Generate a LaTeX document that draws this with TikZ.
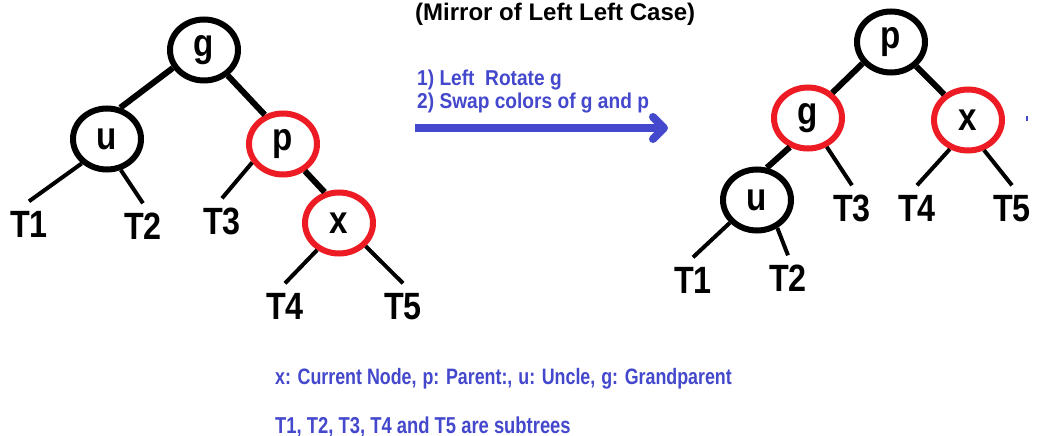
\documentclass[tikz,border=0pt]{standalone}
\usepackage{fontspec}
\setmainfont{Liberation Sans}
\newfontfamily\lblfont[FakeStretch=0.85]{Liberation Sans}
\newfontfamily\stepfont[FakeStretch=0.89]{Liberation Sans}
\newfontfamily\notefont[FakeStretch=0.8]{Liberation Sans}
\usetikzlibrary{shapes.geometric}
\definecolor{rbred}{RGB}{237,28,36}
\definecolor{txtblue}{RGB}{68,72,204}
\tikzset{
  rbnode/.style={ellipse, line width=6pt, minimum width=68pt, minimum height=61pt,
    inner sep=0pt, fill=white, font=\lblfont\bfseries\fontsize{39}{41}\selectfont},
  blknode/.style={rbnode, draw=black},
  rednode/.style={rbnode, draw=rbred},
  subtree/.style={font=\lblfont\bfseries\fontsize{38}{40}\selectfont,
    inner xsep=2pt, inner ysep=9pt, text height=27pt, text depth=0pt},
  bigedge/.style={line width=6pt},
  smalledge/.style={line width=4pt},
  titlestyle/.style={anchor=base west, inner sep=0pt, font=\bfseries\fontsize{24}{26}\selectfont},
  stepstyle/.style={anchor=base west, inner sep=0pt, text=txtblue, font=\stepfont\bfseries\fontsize{21.5}{23}\selectfont},
  notestyle/.style={anchor=base west, inner sep=0pt, text=txtblue, font=\notefont\bfseries\fontsize{23}{25}\selectfont},
  arrowline/.style={draw=txtblue, line width=8pt}
}
\begin{document}
\begin{tikzpicture}[x=1pt,y=-1pt]
\fill[white] (0,0) rectangle (1039,436);
\useasboundingbox (0,0) rectangle (1039,436);

% ---------- left tree ----------
\node[blknode] (Lg) at (204,50) {g};
\node[blknode] (Lu) at (107,139) {u};
\node[rednode] (Lp) at (283,144) {p};
\node[rednode] (Lx) at (339,223) {x};
\node[subtree] (LT1) at (29,224) {T1};
\node[subtree] (LT2) at (143,226) {T2};
\node[subtree] (LT3) at (222,221) {T3};
\node[subtree] (LT4) at (285,306) {T4};
\node[subtree] (LT5) at (403,306) {T5};

\draw[bigedge] (Lg.210) -- (Lu.67);
\draw[bigedge] (Lg.313) -- (Lp.122);
\draw[bigedge] (Lp.309) -- (Lx.115);
\draw[smalledge] (Lu.224) -- (LT1.north);
\draw[smalledge] (Lu.294) -- (LT2.north);
\draw[smalledge] (Lp.211) -- (LT3.north);
\draw[smalledge] (Lx.231) -- (LT4.north);
\draw[smalledge] (Lx.319) -- (LT5.north);

% ---------- right tree ----------
\node[blknode] (Rp) at (891,42) {p};
\node[rednode] (Rg) at (808,118) {g};
\node[rednode] (Rx) at (968,120) {x};
\node[blknode] (Ru) at (757,200) {u};
\node[subtree] (RT1) at (693,280) {T1};
\node[subtree] (RT2) at (788,278) {T2};
\node[subtree] (RT3) at (852,208) {T3};
\node[subtree] (RT4) at (917,208) {T4};
\node[subtree] (RT5) at (1012,208) {T5};

\draw[bigedge] (Rp.217) -- (Rg.46);
\draw[bigedge] (Rp.316) -- (Rx.133);
\draw[bigedge] (Rg.238) -- (Ru.73);
\draw[smalledge] (Rg.303) -- (RT3.north);
\draw[smalledge] (Rx.238) -- (RT4.north);
\draw[smalledge] (Rx.298) -- (RT5.north);
\draw[smalledge] (Ru.220) -- (RT1.north);
\draw[smalledge] (Ru.306) -- (RT2.north);

% ---------- texts and arrow ----------
\node[titlestyle] (title) at (415,21) {(Mirror of Left Left Case)};
\node[stepstyle] (s1) at (417,85) {1) Left\ \ Rotate g};
\node[stepstyle] (s2) at (417,108) {2) Swap colors of g and p};
\coordinate (a1) at (415,128);
\coordinate (a2) at (664,128);
\draw[arrowline] (a1) -- (a2);
\draw[arrowline, line cap=round, line join=round] (a2) ++(-11,-11) -- (a2) -- ++(-11,11);
\draw[draw=txtblue, line width=2pt] (1027,116) -- (1027,121);

\node[notestyle, font=\notefont\bfseries\fontsize{22.3}{24}\selectfont] (n1) at (275,384) {x: Current Node,\hspace{1pt} p: Parent:,\hspace{1pt} u: Uncle,\hspace{1pt} g: Grandparent};
\node[notestyle] (n2) at (275,433) {T1, T2, T3, T4 and T5 are subtrees};
\end{tikzpicture}
\end{document}
